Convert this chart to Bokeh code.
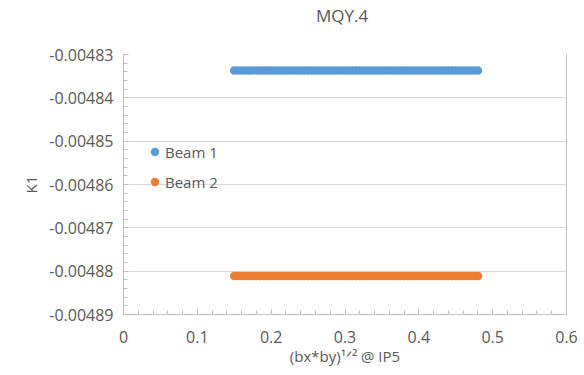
from bokeh.plotting import figure
from bokeh.models import (FixedTicker, PrintfTickFormatter, Legend, LegendItem,
                          Range1d, LinearAxis)
from bokeh.embed import file_html
from bokeh.resources import INLINE

# ---- data ----
sqrt_beta = [0.150, 0.155, 0.160, 0.165, 0.170, 0.175, 0.180, 0.185, 0.190, 0.195,
             0.200, 0.205, 0.210, 0.215, 0.220, 0.225, 0.230, 0.235, 0.240, 0.245,
             0.250, 0.255, 0.260, 0.265, 0.270, 0.275, 0.280, 0.285, 0.290, 0.295,
             0.300, 0.305, 0.310, 0.315, 0.320, 0.325, 0.330, 0.335, 0.340, 0.345,
             0.350, 0.355, 0.360, 0.365, 0.370, 0.375, 0.380, 0.385, 0.390, 0.395,
             0.400, 0.405, 0.410, 0.415, 0.420, 0.425, 0.430, 0.435, 0.440, 0.445,
             0.450, 0.455, 0.460, 0.465, 0.470, 0.475, 0.480]
k1_beam1_value = -0.0048337
k1_beam2_value = -0.0048811
k1_beam1 = [k1_beam1_value for _ in sqrt_beta]
k1_beam2 = [k1_beam2_value for _ in sqrt_beta]
x_ticks = [0, 0.1, 0.2, 0.3, 0.4, 0.5, 0.6]
x_tick_labels = ["0", "0.1", "0.2", "0.3", "0.4", "0.5", "0.6"]
y_ticks = [-0.00489, -0.00488, -0.00487, -0.00486, -0.00485, -0.00484, -0.00483]
series_names = ["Beam 1", "Beam 2"]
series_colors = ["#5b9bd5", "#ed7d31"]
chart_title = "MQY.4"
title_anchor_x = 0.296

FONT = "Open Sans"
TXT = "#595959"

p = figure(width=584, height=375, output_backend="svg", toolbar_location=None,
           x_range=Range1d(0, 0.6), y_range=Range1d(-0.00489, -0.00483),
           min_border_left=123, min_border_right=18, min_border_top=53,
           min_border_bottom=61)
p.outline_line_color = None
p.background_fill_color = "white"
p.border_fill_color = "white"

bax = p.xaxis[0]
lax = p.yaxis[0]

for ax in (bax, lax):
    ax.axis_line_color = "#bfbfbf"
    ax.major_tick_line_color = "#bfbfbf"
    ax.minor_tick_line_color = "#bfbfbf"
    ax.major_tick_in = 5
    ax.major_tick_out = 0
    ax.minor_tick_in = 4
    ax.minor_tick_out = 0
    ax.major_label_text_font = FONT
    ax.major_label_text_font_size = "16px"
    ax.major_label_text_color = TXT
    ax.axis_label_text_font = FONT
    ax.axis_label_text_font_size = "15px"
    ax.axis_label_text_font_style = "normal"
    ax.axis_label_text_color = TXT

bax.ticker = FixedTicker(ticks=x_ticks, minor_ticks=[i / 50 for i in range(31)])
lax.ticker = FixedTicker(ticks=y_ticks,
                         minor_ticks=[-0.00489 + i * 0.000002 for i in range(31)])
bax.major_label_overrides = dict(zip(x_ticks, x_tick_labels))
lax.formatter = PrintfTickFormatter(format="%.5f")
lax.axis_label = "K1"
lax.major_label_standoff = 10
bax.major_label_standoff = 16
bax.axis_label = "(bx*by)\u00b9\u141f\u00b2 @ IP5"
bax.axis_label_standoff = 0

# title drawn as a tick label of an otherwise invisible top axis
tax = LinearAxis(ticker=FixedTicker(ticks=[title_anchor_x]),
                 major_label_overrides={title_anchor_x: chart_title},
                 axis_line_color=None, major_tick_line_color=None,
                 minor_tick_line_color=None,
                 major_label_text_font=FONT, major_label_text_font_size="17px",
                 major_label_text_color=TXT, major_label_standoff=22)
p.add_layout(tax, "above")

rax = LinearAxis(ticker=FixedTicker(ticks=[]), axis_line_color="#bfbfbf",
                 major_label_text_font_size="0px", major_tick_line_color=None,
                 minor_tick_line_color=None)
p.add_layout(rax, "right")

p.xgrid.grid_line_color = None
p.ygrid.grid_line_color = "#d9d9d9"
p.ygrid.ticker = FixedTicker(ticks=y_ticks)

r1 = p.scatter(sqrt_beta, k1_beam1, size=8.5, color=series_colors[0], line_color=None)
r2 = p.scatter(sqrt_beta, k1_beam2, size=8.5, color=series_colors[1], line_color=None)

legend = Legend(items=[LegendItem(label=series_names[0], renderers=[r1]),
                       LegendItem(label=series_names[1], renderers=[r2])],
                location=(21, 122), orientation="vertical")
legend.glyph_width = 21
legend.glyph_height = 21
legend.padding = 0
legend.spacing = 9
legend.label_standoff = 0
legend.label_height = 21
legend.label_text_font = FONT
legend.label_text_font_size = "15px"
legend.label_text_color = TXT
legend.background_fill_alpha = 0
legend.border_line_alpha = 0
legend.margin = 0
p.add_layout(legend, "center")

open("out.html", "w").write(file_html(p, INLINE))
